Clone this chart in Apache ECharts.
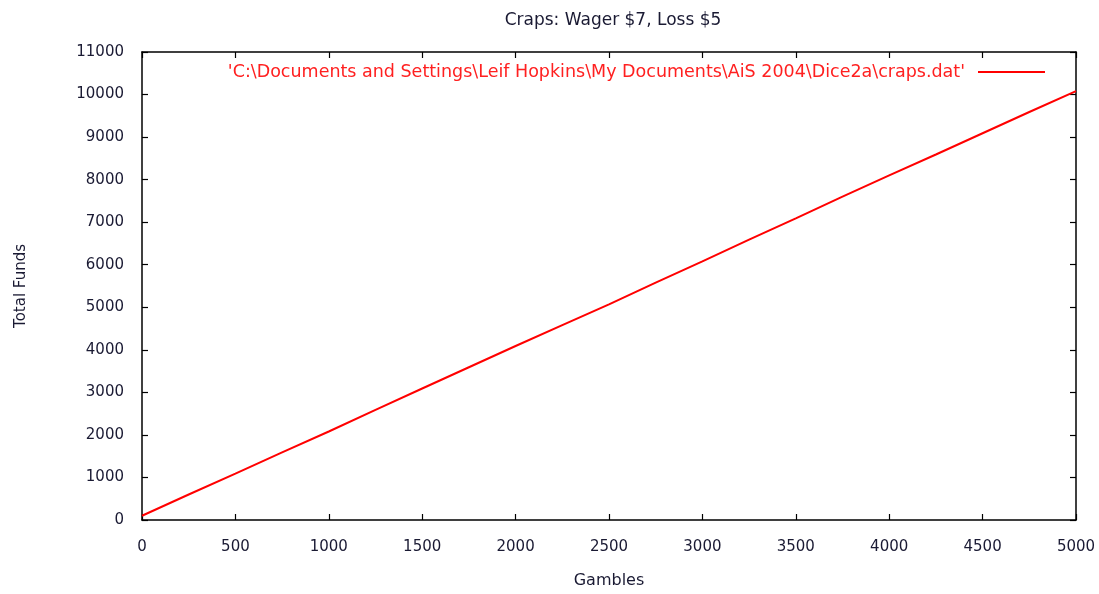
<!DOCTYPE html>
<html>
<head>
<meta charset="utf-8">
<script src="https://cdn.jsdelivr.net/npm/echarts@6/dist/echarts.min.js"></script>
<style>
  html, body { margin: 0; padding: 0; background: #fff; }
  #chart { width: 1099px; height: 594px; }
</style>
</head>
<body>
<div id="chart"></div>
<script>
// Running total of funds after each batch of gambles
const gambles = [0, 250, 500, 750, 1000, 1250, 1500, 1750, 2000, 2250, 2500,
                 2750, 3000, 3250, 3500, 3750, 4000, 4250, 4500, 4750, 5000];
const funds = [100, 600, 1090, 1590, 2080, 2590, 3090, 3590, 4090, 4580, 5070,
               5580, 6080, 6590, 7090, 7600, 8100, 8590, 9090, 9590, 10080];
const seriesName = "'C:\\Documents and Settings\\Leif Hopkins\\My Documents\\AiS 2004\\Dice2a\\craps.dat'";
const titleText = 'Craps: Wager $7, Loss $5';
const xName = 'Gambles';
const yName = 'Total Funds';

const FONT = 'DejaVu Sans, Liberation Sans, sans-serif';
const TEXT = '#1a1a33';

const chart = echarts.init(document.getElementById('chart'), null, { renderer: 'canvas' });

const tickStyle = { show: true, inside: true, length: 6, lineStyle: { color: '#000', width: 1.2 } };
const lineStyle = { show: true, onZero: false, lineStyle: { color: '#000', width: 1.5 } };
const plain = v => String(v);

chart.setOption({
  animation: false,
  backgroundColor: '#fff',
  title: {
    text: titleText,
    left: 608, top: 7, textAlign: 'center',
    textStyle: { fontFamily: FONT, fontSize: 17, fontWeight: 'normal', color: TEXT }
  },
  legend: {
    data: [seriesName],
    right: 49, top: 58,
    align: 'right',
    itemWidth: 67, itemHeight: 14, itemGap: 10,
    icon: 'path://M0,6 L67,6 L67,8 L0,8 Z',
    textStyle: { fontFamily: FONT, fontSize: 17.5, color: '#ff2020', padding: [0, 8, 0, 0] }
  },
  grid: { left: 142, top: 52, right: 23, bottom: 64, containLabel: false },
  xAxis: [
    {
      type: 'value', min: 0, max: 5000, interval: 500,
      name: xName, nameLocation: 'middle', nameGap: 53,
      nameTextStyle: { fontFamily: FONT, fontSize: 16, color: TEXT },
      axisLine: lineStyle, axisTick: tickStyle,
      axisLabel: { fontFamily: FONT, fontSize: 15, color: TEXT, margin: 20, formatter: plain },
      splitLine: { show: false }
    },
    {
      type: 'value', position: 'top', min: 0, max: 5000, interval: 500,
      axisLine: lineStyle, axisTick: tickStyle,
      axisLabel: { show: false }, splitLine: { show: false }
    }
  ],
  yAxis: [
    {
      type: 'value', min: 0, max: 11000, interval: 1000,
      name: yName, nameLocation: 'middle', nameGap: 113, nameRotate: 90,
      nameTextStyle: { fontFamily: FONT, fontSize: 15, color: TEXT },
      axisLine: lineStyle, axisTick: tickStyle,
      axisLabel: { fontFamily: FONT, fontSize: 15, color: TEXT, margin: 18, formatter: plain },
      splitLine: { show: false }
    },
    {
      type: 'value', position: 'right', min: 0, max: 11000, interval: 1000,
      axisLine: lineStyle, axisTick: tickStyle,
      axisLabel: { show: false }, splitLine: { show: false }
    }
  ],
  series: [
    {
      name: seriesName,
      type: 'line',
      data: gambles.map((g, i) => [g, funds[i]]),
      showSymbol: false,
      lineStyle: { color: '#ff0000', width: 2 },
      itemStyle: { color: '#ff0000' }
    }
  ]
});
</script>
</body>
</html>
